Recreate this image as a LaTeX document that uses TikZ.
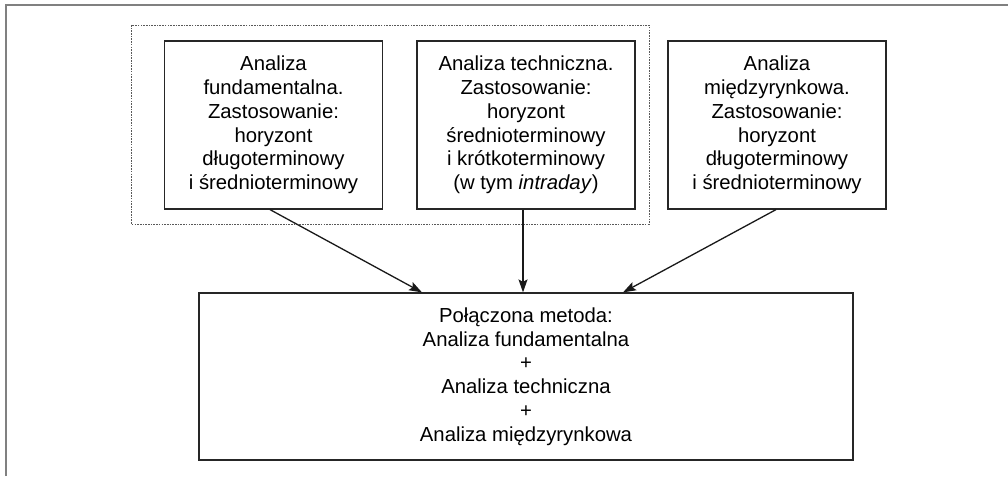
\documentclass[tikz,border=0pt]{standalone}
\usepackage{fontspec}
\setmainfont{Liberation Sans}
\usetikzlibrary{arrows.meta}
\begin{document}
\begin{tikzpicture}[x=1pt,y=-1pt,
  box/.style={draw=black!85, line width=1.2pt, align=center, inner sep=0pt,
    font=\fontsize{20.3}{23.8}\selectfont},
  topbox/.style={box, minimum width=218pt, minimum height=168pt},
  group/.style={draw=black!65, line width=0.9pt, dash pattern=on 1.6pt off 1.1pt},
  frame/.style={draw=black!50, line width=1.5pt},
  arr/.style={draw=black!90, line width=1.3pt, -{Stealth[length=13pt,width=9pt,inset=2.5pt]}}]
\useasboundingbox (0,0) rectangle (1008,476);
% page frame, open to the right and bottom
\draw[frame] (6,476) -- (6,5) -- (1008,5);
% grouping of the first two methods
\draw[group] (131,25) rectangle (649,224);
% the three methods
\node[topbox] (fund) at (273.5,125) {Analiza\\fundamentalna.\\Zastosowanie:\\horyzont\\długoterminowy\\i średnioterminowy};
\node[topbox] (tech) at (526,125) {Analiza techniczna.\\Zastosowanie:\\horyzont\\średnioterminowy\\i krótkoterminowy\\(w tym \textit{intraday})};
\node[topbox] (inter) at (777,125) {Analiza\\międzyrynkowa.\\Zastosowanie:\\horyzont\\długoterminowy\\i średnioterminowy};
% combined method
\node[box, minimum width=654pt, minimum height=167pt] (comb) at (526,376.5)
  {Połączona metoda:\\Analiza fundamentalna\\+\\Analiza techniczna\\+\\Analiza międzyrynkowa};
% connectors
\draw[arr] ([xshift=-3.5pt]fund.south) -- ([xshift=-104pt]comb.north);
\draw[arr] ([xshift=-3pt]tech.south) -- ([xshift=-3pt]comb.north);
\draw[arr] ([xshift=-1pt]inter.south) -- ([xshift=97pt]comb.north);
\end{tikzpicture}
\end{document}
